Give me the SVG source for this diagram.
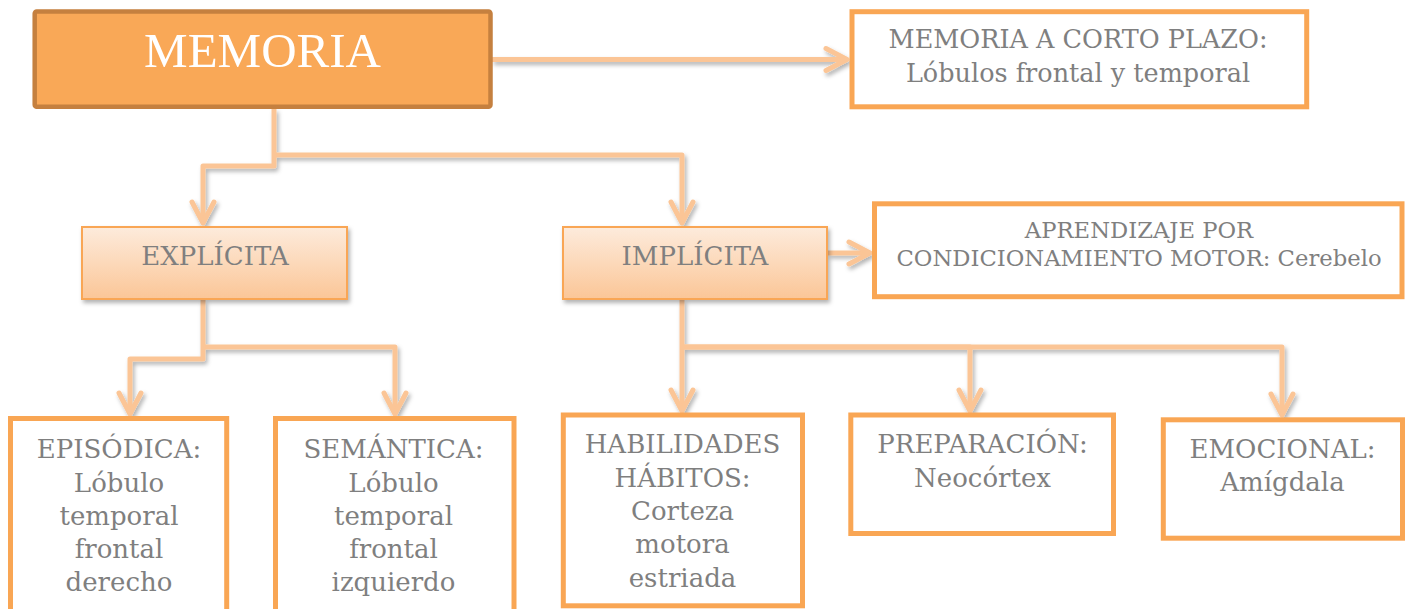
<svg xmlns="http://www.w3.org/2000/svg" width="1408" height="609" viewBox="0 0 1408 609">
<style>
.t{font-family:"DejaVu Serif","Liberation Serif",serif;fill:#7f7f7f;text-anchor:middle}
.b26{font-size:26px}
.box{fill:#ffffff;stroke:#f9a654;stroke-width:5}
.grad{fill:url(#g1);stroke:#f9a654;stroke-width:2}
.con{fill:none;stroke:#fbc596;stroke-width:5;stroke-linejoin:round}
</style>
<defs>
<linearGradient id="g1" x1="0" y1="0" x2="0" y2="1">
<stop offset="0" stop-color="#fdebdc"/>
<stop offset="1" stop-color="#fbc697"/>
</linearGradient>
<filter id="sh" x="-10%" y="-10%" width="120%" height="130%">
<feDropShadow dx="2" dy="3" stdDeviation="2" flood-color="#000" flood-opacity="0.3"/>
</filter>
<marker id="ah" markerUnits="userSpaceOnUse" markerWidth="40" markerHeight="40" viewBox="-30 -20 40 40" refX="0" refY="0" orient="auto" overflow="visible">
<path d="M-21,-11 L0,0 L-21,11" fill="none" stroke="#fbc596" stroke-width="5" stroke-linecap="round" stroke-linejoin="round"/>
</marker>
</defs>
<rect width="1408" height="609" fill="#ffffff"/>

<g id="connectors" filter="url(#sh)">
<path class="con" d="M492,59.5 H847" marker-end="url(#ah)"/>
<path class="con" d="M274,109 V166 H203 V223" marker-end="url(#ah)"/>
<path class="con" d="M274,155 H682 V223" marker-end="url(#ah)"/>
<path class="con" d="M828,253 H870" marker-end="url(#ah)"/>
<path class="con" d="M203,300 V359 H130 V414" marker-end="url(#ah)"/>
<path class="con" d="M203,347 H395 V414" marker-end="url(#ah)"/>
<path class="con" d="M682,300 V411" marker-end="url(#ah)"/>
<path class="con" d="M682,347 H970 V411" marker-end="url(#ah)"/>
<path class="con" d="M682,347 H1282 V415" marker-end="url(#ah)"/>
</g>

<g id="memoria">
<rect x="34.7" y="11.5" width="455.8" height="95.2" rx="2" fill="#f9a857" stroke="#c5803f" stroke-width="4.5"/>
<text x="262.5" y="66.7" style="font-family:'Liberation Serif',serif;font-size:49px;fill:#ffffff;text-anchor:middle">MEMORIA</text>
</g>

<g id="corto-plazo">
<rect class="box" x="852" y="11.7" width="454.7" height="95.1"/>
<text class="t" x="1078" y="48.3" style="font-size:25.5px">MEMORIA A CORTO PLAZO:</text>
<text class="t" x="1078" y="82.3" style="font-size:25.5px">Lóbulos frontal y temporal</text>
</g>

<g id="explicita">
<rect class="grad" x="82" y="227" width="265" height="72" filter="url(#sh)"/>
<text class="t b26" x="215" y="265">EXPLÍCITA</text>
</g>

<g id="implicita">
<rect class="grad" x="563" y="227" width="264" height="72" filter="url(#sh)"/>
<text class="t b26" x="695" y="265">IMPLÍCITA</text>
</g>

<g id="aprendizaje">
<rect class="box" x="874.5" y="203.8" width="527.5" height="92.9"/>
<text class="t" x="1139" y="238.3" style="font-size:22.7px">APRENDIZAJE POR</text>
<text class="t" x="1139" y="266" style="font-size:22.7px">CONDICIONAMIENTO MOTOR: Cerebelo</text>
</g>

<g id="episodica">
<rect class="box" x="10.5" y="418.5" width="216.2" height="200"/>
<text class="t b26" x="119" y="458.3">EPISÓDICA:</text>
<text class="t b26" x="119" y="491.7">Lóbulo</text>
<text class="t b26" x="119" y="524.7">temporal</text>
<text class="t b26" x="119" y="557.7">frontal</text>
<text class="t b26" x="119" y="590.7">derecho</text>
</g>

<g id="semantica">
<rect class="box" x="275.5" y="418.5" width="238.5" height="200"/>
<text class="t b26" x="393.5" y="458.3">SEMÁNTICA:</text>
<text class="t b26" x="393.5" y="491.7">Lóbulo</text>
<text class="t b26" x="393.5" y="524.7">temporal</text>
<text class="t b26" x="393.5" y="557.7">frontal</text>
<text class="t b26" x="393.5" y="590.7">izquierdo</text>
</g>

<g id="habilidades">
<rect class="box" x="563.3" y="415" width="239.2" height="190.8"/>
<text class="t b26" x="682.5" y="453.3">HABILIDADES</text>
<text class="t b26" x="682.5" y="487">HÁBITOS:</text>
<text class="t b26" x="682.5" y="520">Corteza</text>
<text class="t b26" x="682.5" y="553.3">motora</text>
<text class="t b26" x="682.5" y="586.7">estriada</text>
</g>

<g id="preparacion">
<rect class="box" x="850.8" y="415" width="262.7" height="118.5"/>
<text class="t b26" x="982.5" y="453.3">PREPARACIÓN:</text>
<text class="t b26" x="982.5" y="486.7">Neocórtex</text>
</g>

<g id="emocional">
<rect class="box" x="1163.3" y="419.8" width="239.2" height="118.4"/>
<text class="t b26" x="1282.5" y="458.3">EMOCIONAL:</text>
<text class="t b26" x="1282.5" y="490.7">Amígdala</text>
</g>
</svg>
